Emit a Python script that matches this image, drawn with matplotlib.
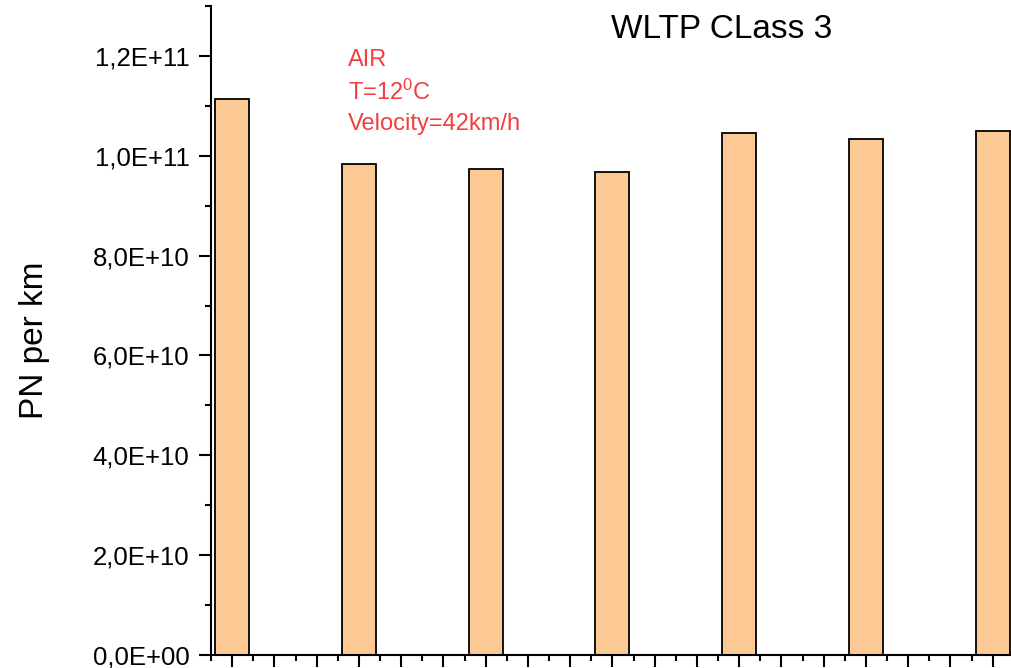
import matplotlib
matplotlib.use("Agg")
import matplotlib.pyplot as plt
from matplotlib.ticker import FuncFormatter, MultipleLocator

plt.rcParams['font.family'] = ['Liberation Sans', 'DejaVu Sans']
plt.rcParams['mathtext.fontset'] = 'custom'
plt.rcParams['mathtext.rm'] = 'Liberation Sans'
plt.rcParams['mathtext.it'] = 'Liberation Sans'

# bar positions on the x axis and PN per km values
positions = [1, 4, 7, 10, 13, 16, 19]
pn_per_km = [1.114e11, 0.984e11, 0.973e11, 0.968e11, 1.045e11, 1.033e11, 1.049e11]

title = "WLTP CLass 3"
ylabel = "PN per km"
notes = ["AIR", r"T=12$^0$C", "Velocity=42km/h"]

bar_color = "#FCC995"
note_color = "#F23E3E"

W, H = 1011, 668
fig = plt.figure(figsize=(W / 100, H / 100), dpi=100)

# axes placed in pixel units, as in the reference
left, bottom, top = 211, 655, 6
unit = 42.25
ax = fig.add_axes([left / W, 1 - bottom / H, 19 * unit / W, (bottom - top) / H])

ax.bar(positions, pn_per_km, width=0.8, color=bar_color,
       edgecolor="black", linewidth=1.3, zorder=2)

ax.set_xlim(0.5, 19.5)
ax.set_ylim(0, 1.3e11)

for side in ["top", "right"]:
    ax.spines[side].set_visible(False)
for side in ["left", "bottom"]:
    ax.spines[side].set_linewidth(1.5)

ax.xaxis.set_major_locator(MultipleLocator(1))
ax.xaxis.set_minor_locator(MultipleLocator(0.5))
ax.yaxis.set_major_locator(MultipleLocator(2e10))
ax.yaxis.set_minor_locator(MultipleLocator(1e10))
ax.yaxis.set_major_formatter(
    FuncFormatter(lambda v, pos: f"{v:.1E}".replace(".", ",")))

ax.tick_params(axis="x", which="both", labelbottom=False, direction="out")
ax.tick_params(which="major", length=8.5, width=1.5)
ax.tick_params(which="minor", length=4.3, width=1.5)
ax.tick_params(axis="y", which="major", labelsize=18.5, pad=7)

fig.text(722 / W, 1 - 38 / H, title, ha="center", va="baseline", fontsize=24)
fig.text(35 / W, 1 - 340 / H, ylabel, rotation=90, ha="center", va="center",
         fontsize=24)

baselines = [66, 100, 130]
for txt, yb in zip(notes, baselines):
    fig.text(348 / W, 1 - yb / H, txt, ha="left", va="baseline",
             fontsize=17, color=note_color)

fig.savefig("out.png", dpi=100)
